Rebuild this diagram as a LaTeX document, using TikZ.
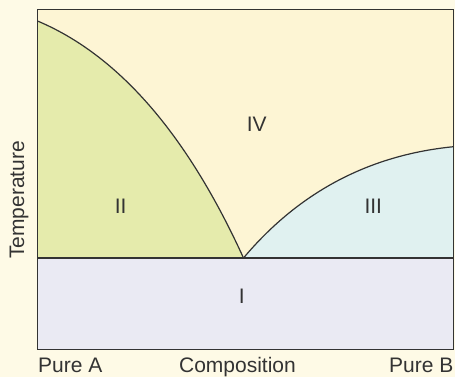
\documentclass[tikz,border=0pt]{standalone}
\usepackage{fontspec}
\setmainfont{Liberation Sans}
\definecolor{bgcream}{RGB}{254,250,230}
\definecolor{regIV}{RGB}{253,245,212}
\definecolor{regII}{RGB}{229,235,172}
\definecolor{regIII}{RGB}{224,241,240}
\definecolor{regI}{RGB}{234,234,243}
\definecolor{inkgray}{RGB}{51,51,51}
\begin{document}
\begin{tikzpicture}[x=1pt,y=-1pt,
  lbl/.style={font=\fontsize{21}{24}\selectfont, text=inkgray, inner sep=0pt},
  edge/.style={draw=inkgray, line width=1.2pt}]
\fill[bgcream] (0,0) rectangle (455,377);
\useasboundingbox (0,0) rectangle (455,377);
\coordinate (tl) at (37.5,9.5);
\coordinate (br) at (453.5,349.5);
\coordinate (eut) at (243.5,258);
\coordinate (lhs) at (37.5,258);
\coordinate (rhs) at (453.5,258);
\coordinate (atop) at (37.5,21);
\coordinate (btop) at (453.5,146.7);
% regions
\fill[regIV] (tl) rectangle (rhs);
\fill[regI] (lhs) rectangle (br);
\fill[regII] (atop) .. controls (118.3,55) and (187,134) .. (eut) -- (lhs) -- cycle;
\fill[regIII] (eut) .. controls (298.9,192.1) and (368.9,155.1) .. (btop) -- (rhs) -- cycle;
% lines
\draw[edge] (atop) .. controls (118.3,55) and (187,134) .. (eut);
\draw[edge] (eut) .. controls (298.9,192.1) and (368.9,155.1) .. (btop);
\draw[edge] (lhs) -- (rhs);
\draw[edge] (tl) rectangle (br);
% labels
\node[lbl] (l4) at (256.7,124) {IV};
\node[lbl] (l2) at (120.7,206.7) {II};
\node[lbl] (l3) at (373.3,206.7) {III};
\node[lbl] (l1) at (241.7,296.7) {I};
\node[lbl, rotate=90] (temp) at (19,200) {Temperature};
\node[lbl, anchor=base west] (pa) at (38,372) {Pure A};
\node[lbl, anchor=base] (comp) at (237.5,372) {Composition};
\node[lbl, anchor=base east] (pb) at (453.5,372) {Pure B};
\end{tikzpicture}
\end{document}
